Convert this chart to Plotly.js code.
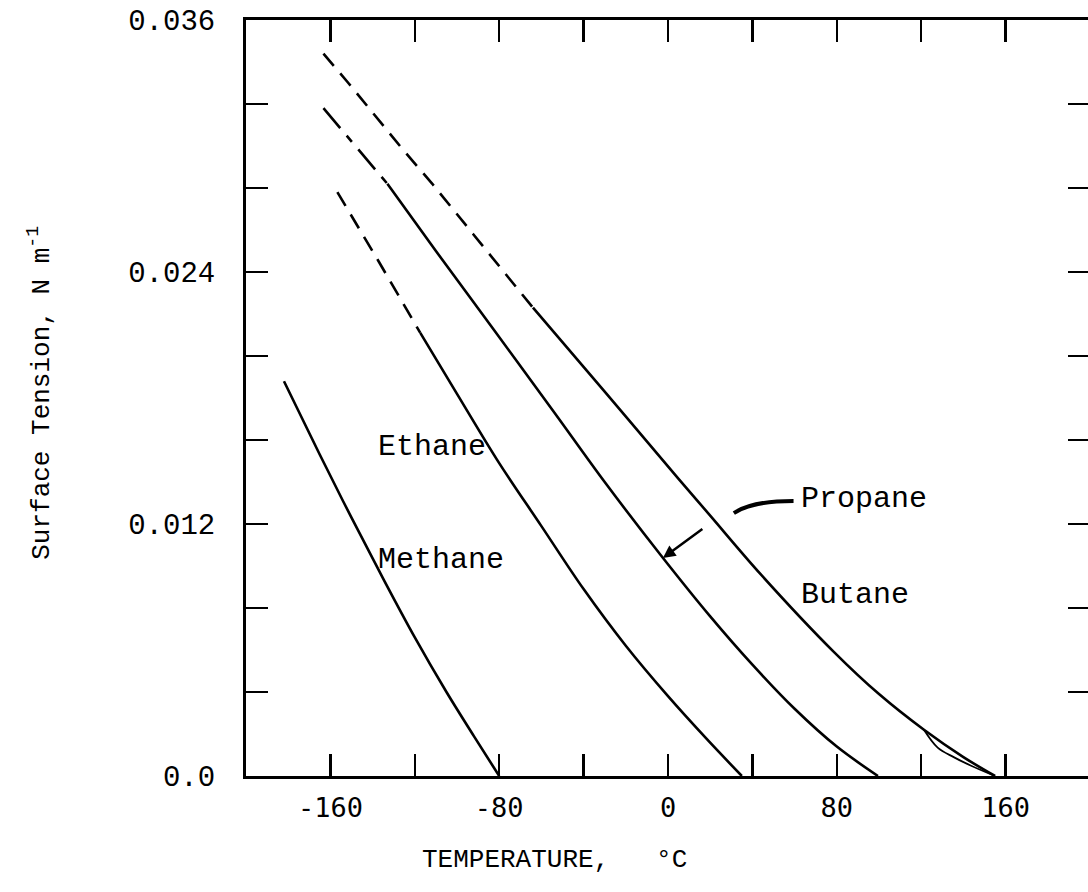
<!DOCTYPE html>
<html>
<head>
<meta charset="utf-8">
<script src="https://cdn.plot.ly/plotly-3.0.1.min.js"></script>
<style>
  html, body { margin: 0; padding: 0; background: #fff; overflow: hidden; }
  #chart { width: 1100px; height: 892px; }
</style>
</head>
<body>
<div id="chart"></div>
<script>
// ---- Data (temperature in °C, surface tension in N/m) ----
const methaneT = [-182, -165, -150, -135, -120, -105, -92, -80];
const methaneS = [0.0188, 0.0153, 0.0123, 0.0094, 0.0066, 0.0040, 0.0019, 0];

const ethaneDashT = [-156.7, -137.1, -117.4];
const ethaneDashS = [0.0278, 0.0245, 0.0211];
const ethaneT = [-117.4, -100, -80, -60, -40, -20, 0, 18, 35];
const ethaneS = [0.0211, 0.0182, 0.0149, 0.0119, 0.0089, 0.0062, 0.0038, 0.0018, 0];

const propaneDashT = [-163.3, -148, -133];
const propaneDashS = [0.0318, 0.0300, 0.0282];
const propaneT = [-133, -110, -82.2, -53.8, -30, -3.3, 20, 40, 60, 80, 99.5];
const propaneS = [0.0282, 0.0250, 0.0212, 0.0173, 0.0140, 0.0105, 0.0076, 0.0053, 0.0032, 0.0014, 0];

const butaneDashT = [-163.3, -151.5, -125.4, -111.7, -92.3, -75.3, -64];
const butaneDashS = [0.0344, 0.0330, 0.0298, 0.0282, 0.0258, 0.0237, 0.0223];
const butaneT = [-64, -30, 4.6, 20, 44, 78.7, 100, 121.3, 140, 155];
const butaneS = [0.0223, 0.0183, 0.0142, 0.0124, 0.0096, 0.0059, 0.0039, 0.0022, 0.0009, 0];
const butaneLoopT = [121.3, 127.8, 135.4, 143.4, 155];
const butaneLoopS = [0.0022, 0.00135, 0.0009, 0.0005, 0];

const xTickVals = [-160, -120, -80, -40, 0, 40, 80, 120, 160];
const xTickText = ['-160', '', '-80', '', '0', '', '80', '', '160'];
const yTickVals = [0, 0.004, 0.008, 0.012, 0.016, 0.020, 0.024, 0.028, 0.032, 0.036];
const yTickText = ['0.0', '', '', '0.012', '', '', '0.024', '', '', '0.036'];

// ---- Traces ----
const solid = {color: '#000', width: 2.6, shape: 'spline', smoothing: 1};
const dashed = {color: '#000', width: 2.6, dash: '16px,10px'};

function tr(x, y, line) {
  return {x: x, y: y, type: 'scatter', mode: 'lines', line: line, hoverinfo: 'skip', showlegend: false};
}

const data = [
  tr(methaneT, methaneS, solid),
  tr(ethaneDashT, ethaneDashS, dashed),
  tr(ethaneT, ethaneS, solid),
  tr(propaneDashT, propaneDashS, {color: '#000', width: 2.6, dash: '26px,10px,8px,10px'}),
  tr(propaneT, propaneS, solid),
  tr(butaneDashT, butaneDashS, dashed),
  tr(butaneT, butaneS, solid),
  tr(butaneLoopT, butaneLoopS, {color: '#000', width: 1.8, shape: 'spline', smoothing: 1})
];

const labelFont = {family: 'Liberation Mono, DejaVu Sans Mono, monospace', size: 30, color: '#000'};
const titleFont = {family: 'Liberation Mono, DejaVu Sans Mono, monospace', size: 26, color: '#000'};

const layout = {
  width: 1100,
  height: 892,
  margin: {l: 246, r: 10, t: 20, b: 116},
  paper_bgcolor: '#fff',
  plot_bgcolor: '#fff',
  showlegend: false,
  xaxis: {
    range: [-200, 200],
    showgrid: false, zeroline: false,
    showline: true, linecolor: '#000', linewidth: 3,
    mirror: 'ticks',
    ticks: 'inside', ticklen: 22, tickwidth: 2.5, tickcolor: '#000',
    tickmode: 'array', tickvals: xTickVals, ticktext: xTickText,
    ticklabelstandoff: 6,
    tickfont: {family: 'DejaVu Sans Mono, monospace', size: 27, color: '#000'}
  },
  yaxis: {
    range: [0, 0.036],
    showgrid: false, zeroline: false,
    showline: true, linecolor: '#000', linewidth: 3,
    mirror: 'ticks',
    ticks: 'inside', ticklen: 22, tickwidth: 2.5, tickcolor: '#000',
    tickmode: 'array', tickvals: yTickVals, ticktext: yTickText,
    ticklabelstandoff: 22,
    tickfont: {family: 'Liberation Mono, DejaVu Sans Mono, monospace', size: 29, color: '#000'}
  },
  shapes: [
    {type: 'path', xref: 'x', yref: 'y',
     path: 'M 31.2,0.01252 Q 40,0.0131 59.5,0.0131',
     line: {color: '#000', width: 4}}
  ],
  annotations: [
    {xref: 'paper', yref: 'paper', x: 0.365, y: -0.111, xanchor: 'center', yanchor: 'middle',
     text: 'TEMPERATURE,   °C', showarrow: false, font: titleFont},
    {xref: 'paper', yref: 'paper', x: -0.244, y: 0.507, xanchor: 'center', yanchor: 'middle',
     textangle: -90, text: 'Surface Tension, N m<sup>-1</sup>', showarrow: false, font: titleFont},
    {xref: 'x', yref: 'y', x: -138.2, y: 0.01567, xanchor: 'left', yanchor: 'middle',
     text: 'Ethane', showarrow: false, font: labelFont},
    {xref: 'x', yref: 'y', x: -138.2, y: 0.01029, xanchor: 'left', yanchor: 'middle',
     text: 'Methane', showarrow: false, font: labelFont},
    {xref: 'x', yref: 'y', x: 62, y: 0.01319, xanchor: 'left', yanchor: 'middle',
     text: 'Propane', showarrow: false, font: labelFont},
    {xref: 'x', yref: 'y', x: 62, y: 0.00862, xanchor: 'left', yanchor: 'middle',
     text: 'Butane', showarrow: false, font: labelFont},
    {xref: 'x', yref: 'y', axref: 'x', ayref: 'y', x: -2.4, y: 0.01038, ax: 17.0, ay: 0.01181,
     text: '', showarrow: true, arrowhead: 2, arrowsize: 1, arrowwidth: 2.5, arrowcolor: '#000', standoff: 0, startstandoff: 0}
  ]
};

Plotly.newPlot('chart', data, layout, {staticPlot: true, displayModeBar: false});
</script>
</body>
</html>
